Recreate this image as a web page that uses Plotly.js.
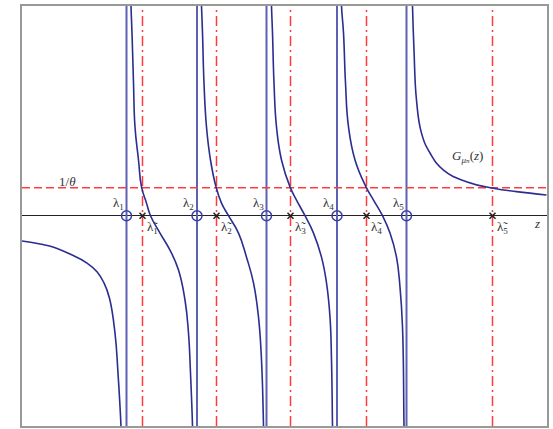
<!DOCTYPE html>
<html>
<head>
<meta charset="utf-8">
<script src="https://cdn.plot.ly/plotly-3.0.1.min.js"></script>
<style>
  html, body { margin: 0; padding: 0; background: #fff; }
  #chart { width: 553px; height: 429px; }
</style>
</head>
<body>
<div id="chart"></div>
<script>
// poles (eigenvalues) and the roots of G(z) = 1/theta
const lambdas = [2.09, 3.50, 4.89, 6.30, 7.69];
const lambdaTildes = [2.41, 3.89, 5.37, 6.89, 9.41];
const thetaInv = 1.0;

const xRange = [0, 10.5];
const yRange = [-7.51, 7.49];

// branches of G_mu_n(z)
const branch0X = [0.00, 0.36, 0.62, 0.96, 1.30, 1.50, 1.64, 1.75, 1.86, 1.92, 1.98, 2.01];
const branch0Y = [-0.90, -1.01, -1.12, -1.37, -1.69, -2.00, -2.40, -2.95, -4.19, -5.62, -7.51, -9.10];

const branch1X = [2.17, 2.18, 2.20, 2.23, 2.26, 2.33, 2.39, 2.49, 2.57, 2.76, 2.96, 3.13, 3.26, 3.33, 3.37, 3.41, 3.42];
const branch1Y = [8.42, 7.49, 6.53, 4.74, 3.17, 1.99, 1.03, 0.45, 0.00, -0.62, -1.23, -1.94, -3.01, -4.19, -5.62, -7.51, -8.72];

const branch2X = [3.57, 3.59, 3.61, 3.64, 3.69, 3.77, 3.88, 3.99, 4.13, 4.33, 4.49, 4.63, 4.73, 4.79, 4.83, 4.84];
const branch2Y = [8.42, 7.49, 6.53, 4.74, 3.17, 1.99, 1.03, 0.45, 0.00, -0.62, -1.48, -2.40, -3.62, -5.15, -7.51, -8.72];

const branch3X = [4.98, 4.99, 5.01, 5.04, 5.09, 5.19, 5.36, 5.49, 5.66, 5.83, 5.99, 6.09, 6.16, 6.19, 6.21, 6.22];
const branch3Y = [8.42, 7.49, 6.53, 4.74, 3.17, 1.99, 1.03, 0.56, 0.00, -0.62, -1.48, -2.40, -3.62, -5.15, -7.51, -8.72];

const branch4X = [6.38, 6.39, 6.43, 6.47, 6.53, 6.66, 6.88, 7.03, 7.21, 7.36, 7.49, 7.56, 7.61, 7.64, 7.65];
const branch4Y = [8.42, 7.49, 6.53, 4.74, 3.17, 1.99, 1.03, 0.56, 0.00, -0.62, -1.48, -2.55, -3.97, -7.51, -8.72];

const branch5X = [7.80, 7.81, 7.84, 7.89, 7.99, 8.16, 8.43, 8.89, 9.43, 9.89, 10.49];
const branch5Y = [8.42, 7.49, 5.92, 4.13, 2.95, 2.24, 1.63, 1.21, 0.98, 0.86, 0.74];

const branchesX = [branch0X, branch1X, branch2X, branch3X, branch4X, branch5X];
const branchesY = [branch0Y, branch1Y, branch2Y, branch3Y, branch4Y, branch5Y];

const curveColor = '#2b2e8f';
const poleColor = '#5c61b3';
const redColor = '#ff3b3b';
const textFont = { family: 'Liberation Serif, DejaVu Serif, serif', size: 13, color: '#333' };

const traces = [];

// pole lines
lambdas.forEach(l => {
    traces.push({
        x: [l, l], y: yRange, type: 'scatter', mode: 'lines',
        line: { color: poleColor, width: 2 }, hoverinfo: 'skip'
    });
});

// dash-dot lines at the tilde lambdas
lambdaTildes.forEach(l => {
    traces.push({
        x: [l, l], y: yRange, type: 'scatter', mode: 'lines',
        line: { color: redColor, width: 1.5, dash: '10px,4px,2px,4px' }, hoverinfo: 'skip'
    });
});

// 1/theta level
traces.push({
    x: xRange, y: [thetaInv, thetaInv], type: 'scatter', mode: 'lines',
    line: { color: redColor, width: 1.5, dash: '8px,4px' }, hoverinfo: 'skip'
});

// the curve
branchesX.forEach((bx, i) => {
    traces.push({
        x: bx, y: branchesY[i], type: 'scatter', mode: 'lines',
        line: { color: curveColor, width: 1.6, shape: 'spline', smoothing: 1.3 },
        hoverinfo: 'skip'
    });
});

// circles at poles, crosses at roots
traces.push({
    x: lambdas, y: lambdas.map(() => 0), type: 'scatter', mode: 'markers',
    marker: { symbol: 'circle-open', size: 10, color: '#3a3fa3', line: { width: 1.5 } },
    hoverinfo: 'skip'
});
traces.push({
    x: lambdaTildes, y: lambdaTildes.map(() => 0), type: 'scatter', mode: 'markers',
    marker: { symbol: 'x-thin', size: 6, color: '#222', line: { width: 1.5, color: '#222' } },
    hoverinfo: 'skip'
});

const annotations = [];
lambdas.forEach((l, i) => {
    annotations.push({
        x: l - 0.17, y: 0.45, text: 'λ<sub>' + (i + 1) + '</sub>',
        showarrow: false, font: textFont
    });
});
lambdaTildes.forEach((l, i) => {
    annotations.push({
        x: l + 0.2, y: -0.42, text: 'λ\u0303<sub>' + (i + 1) + '</sub>',
        showarrow: false, font: textFont
    });
});
annotations.push({ x: 0.9, y: 1.22, text: '1/<i>θ</i>', showarrow: false, font: textFont });
annotations.push({ x: 10.3, y: -0.27, text: '<i>z</i>', showarrow: false, font: textFont });
annotations.push({ x: 8.9, y: 2.1, text: '<i>G</i><sub><i>μₙ</i></sub>(<i>z</i>)', showarrow: false, font: textFont });

const layout = {
    width: 553,
    height: 429,
    margin: { l: 22, r: 6, t: 6, b: 3 },
    paper_bgcolor: '#fff',
    plot_bgcolor: '#fff',
    showlegend: false,
    xaxis: {
        range: xRange, showgrid: false, zeroline: false, showticklabels: false, ticks: '',
        showline: true, mirror: true, linecolor: '#999', linewidth: 2
    },
    yaxis: {
        range: yRange, showgrid: false, showticklabels: false, ticks: '',
        zeroline: true, zerolinecolor: '#222', zerolinewidth: 1.5,
        showline: true, mirror: true, linecolor: '#999', linewidth: 2
    },
    annotations: annotations
};

Plotly.newPlot('chart', traces, layout, { displayModeBar: false, staticPlot: true });
</script>
</body>
</html>
